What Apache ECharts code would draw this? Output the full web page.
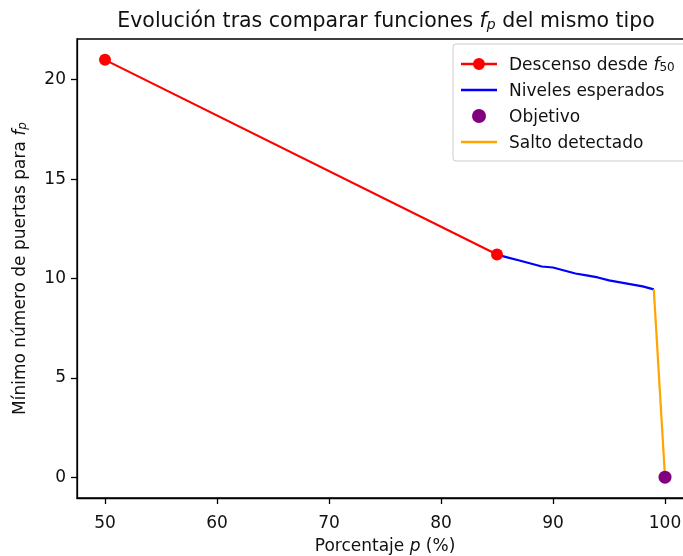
<!DOCTYPE html>
<html>
<head>
<meta charset="utf-8">
<script src="https://cdn.jsdelivr.net/npm/echarts@6/dist/echarts.min.js"></script>
<style>html,body{margin:0;padding:0;background:#fff;overflow:hidden}#c{width:683px;height:556px}</style>
</head>
<body>
<div id="c"></div>
<script>
// Data
const descensoX = [50, 85];
const descensoY = [21, 11.2];
const nivelesX = [85, 86, 87, 88, 89, 90, 91, 92, 93, 94, 95, 96, 97, 98, 99];
const nivelesY = [11.2, 11.05, 10.9, 10.75, 10.6, 10.55, 10.4, 10.25, 10.15, 10.05, 9.9, 9.8, 9.7, 9.6, 9.45];
const saltoX = [99, 100];
const saltoY = [9.45, 0];
const objetivoX = [100];
const objetivoY = [0];
const xTicks = [50, 60, 70, 80, 90, 100];
const yTicks = [0, 5, 10, 15, 20];

const zip = (xs, ys) => xs.map((x, i) => [x, ys[i]]);
const FONT = 'DejaVu Sans';
const TXT = '#111';
function mkRich(fs, sfs, lh, pad) {
  return {
    n: { fontFamily: FONT, fontSize: fs, fontWeight: 'normal', color: TXT, lineHeight: lh, verticalAlign: 'bottom' },
    i: { fontFamily: FONT, fontSize: fs, fontWeight: 'normal', fontStyle: 'italic', color: TXT, lineHeight: lh, verticalAlign: 'bottom' },
    s: { fontFamily: FONT, fontSize: sfs, fontWeight: 'normal', fontStyle: 'italic', color: TXT, lineHeight: lh, verticalAlign: 'bottom', padding: [pad, 0, 0, 0] },
    s0: { fontFamily: FONT, fontSize: sfs, fontWeight: 'normal', color: TXT, lineHeight: lh, verticalAlign: 'bottom', padding: [pad, 0, 0, 0] }
  };
}
const rich = mkRich(17, 12, 20, 5);
const richT = mkRich(20.5, 14, 24, 6);

const lineIcon = 'path://M0,5.8h36v2.4h-36z';
const lineDotIcon = 'path://M0,5.8h13v2.4h-13z M23,5.8h13v2.4h-13z M12,7a6,6 0 1,1 12,0a6,6 0 1,1 -12,0z';

const chart = echarts.init(document.getElementById('c'), null, { renderer: 'canvas' });
chart.setOption({
  animation: false,
  backgroundColor: '#fff',
  title: {
    text: '{n|Evolución tras comparar funciones }{i|f}{s|p}{n| del mismo tipo}',
    left: 381, textAlign: 'center', top: 3,
    textStyle: { rich: richT }
  },
  grid: { left: 77, top: 39, right: -10, bottom: 58, outerBoundsMode: 'none', containLabel: false, show: true, borderColor: '#000', borderWidth: 1.3, backgroundColor: 'transparent' },
  legend: {
    orient: 'vertical', left: 453, top: 44,
    padding: [13, 40, 9, 8],
    itemGap: 9, itemWidth: 36, itemHeight: 14,
    borderColor: '#ccc', borderWidth: 1, borderRadius: 3,
    backgroundColor: 'rgba(255,255,255,0.8)',
    data: [
      { name: 'Descenso desde f50', icon: lineDotIcon, itemStyle: { color: '#ff0000', borderWidth: 0 } },
      { name: 'Niveles esperados', icon: lineIcon, itemStyle: { color: '#0000ff', borderWidth: 0 } },
      { name: 'Objetivo', icon: 'circle', itemStyle: { color: '#800080', borderWidth: 0 } },
      { name: 'Salto detectado', icon: lineIcon, itemStyle: { color: '#ffa500', borderWidth: 0 } }
    ],
    formatter: function (name) {
      if (name === 'Descenso desde f50') return '{n|Descenso desde }{i|f}{s0|50}';
      return '{n|' + name + '}';
    },
    textStyle: { rich: rich, padding: [0, 0, 0, 7] }
  },
  xAxis: {
    type: 'value', min: 47.5, max: 102.5,
    name: '{n|Porcentaje }{i|p}{n| (%)}', nameLocation: 'middle', nameGap: 37,
    nameTextStyle: { rich: rich },
    splitLine: { show: false },
    axisLine: { show: true, onZero: false, lineStyle: { color: '#000', width: 1.3 } },
    axisTick: { show: true, length: 6, lineStyle: { color: '#000', width: 1.3 }, customValues: xTicks },
    axisLabel: { fontFamily: FONT, fontSize: 17, color: TXT, margin: 17, customValues: xTicks }
  },
  yAxis: {
    type: 'value', min: -1.05, max: 22.05,
    name: '{n|Mínimo número de puertas para }{i|f}{s|p}', nameLocation: 'middle', nameGap: 48,
    nameTextStyle: { rich: rich },
    splitLine: { show: false },
    axisLine: { show: true, onZero: false, lineStyle: { color: '#000', width: 1.3 } },
    axisTick: { show: true, length: 6, lineStyle: { color: '#000', width: 1.3 }, customValues: yTicks },
    axisLabel: { fontFamily: FONT, fontSize: 17, color: TXT, margin: 11, customValues: yTicks }
  },
  series: [
    {
      name: 'Descenso desde f50', type: 'line', data: zip(descensoX, descensoY),
      symbol: 'circle', symbolSize: 12, showSymbol: true,
      lineStyle: { color: '#ff0000', width: 2.2 }, itemStyle: { color: '#ff0000' }, z: 3
    },
    {
      name: 'Niveles esperados', type: 'line', data: zip(nivelesX, nivelesY),
      symbol: 'none', lineStyle: { color: '#0000ff', width: 2.2 }, itemStyle: { color: '#0000ff' }, z: 2
    },
    {
      name: 'Objetivo', type: 'scatter', data: zip(objetivoX, objetivoY),
      symbol: 'circle', symbolSize: 13, itemStyle: { color: '#800080', opacity: 1 }, z: 5
    },
    {
      name: 'Salto detectado', type: 'line', data: zip(saltoX, saltoY),
      symbol: 'none', lineStyle: { color: '#ffa500', width: 2.2 }, itemStyle: { color: '#ffa500' }, z: 2
    }
  ]
});
</script>
</body>
</html>
